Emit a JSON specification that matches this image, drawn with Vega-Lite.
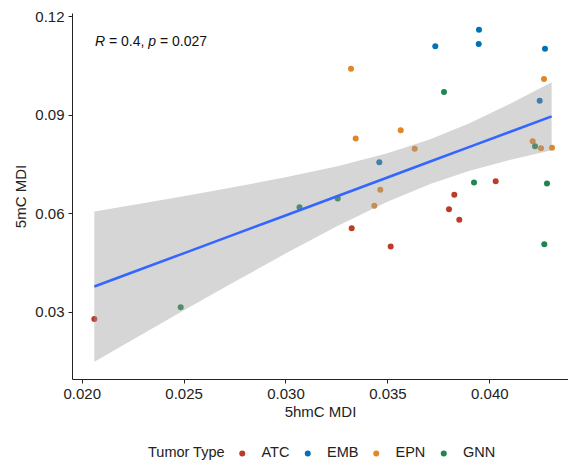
{
  "$schema": "https://vega.github.io/schema/vega-lite/v6.json",
  "autosize": "none",
  "width": 496,
  "height": 366,
  "padding": {"left": 72, "top": 13, "right": 0, "bottom": 86},
  "background": "white",
  "config": {
    "view": {"stroke": null},
    "font": "Liberation Sans",
    "axis": {
      "grid": false,
      "domainColor": "#222222",
      "tickColor": "#222222",
      "tickSize": 4,
      "labelFontSize": 15,
      "labelColor": "#222222",
      "titleFontSize": 15,
      "titleFontWeight": "normal",
      "titleColor": "#222222",
      "labelFont": "Liberation Sans",
      "titleFont": "Liberation Sans"
    },
    "legend": {
      "labelFontSize": 14.5,
      "titleFontSize": 14.5,
      "titleFontWeight": "normal",
      "labelFont": "Liberation Sans",
      "titleFont": "Liberation Sans",
      "labelColor": "#222222",
      "titleColor": "#222222"
    }
  },
  "datasets": {
    "points": [
      {"hmc": 0.020618, "mc": 0.02778, "type": "ATC"},
      {"hmc": 0.033248, "mc": 0.05539, "type": "ATC"},
      {"hmc": 0.035162, "mc": 0.04981, "type": "ATC"},
      {"hmc": 0.038283, "mc": 0.06557, "type": "ATC"},
      {"hmc": 0.038022, "mc": 0.06118, "type": "ATC"},
      {"hmc": 0.038528, "mc": 0.05795, "type": "ATC"},
      {"hmc": 0.040314, "mc": 0.06971, "type": "ATC"},
      {"hmc": 0.03735, "mc": 0.11077, "type": "EMB"},
      {"hmc": 0.039494, "mc": 0.11586, "type": "EMB"},
      {"hmc": 0.03948, "mc": 0.11147, "type": "EMB"},
      {"hmc": 0.042733, "mc": 0.11007, "type": "EMB"},
      {"hmc": 0.042473, "mc": 0.09422, "type": "EMB"},
      {"hmc": 0.034603, "mc": 0.0755, "type": "EMB"},
      {"hmc": 0.033214, "mc": 0.10397, "type": "EPN"},
      {"hmc": 0.042684, "mc": 0.1008, "type": "EPN"},
      {"hmc": 0.033445, "mc": 0.08273, "type": "EPN"},
      {"hmc": 0.035653, "mc": 0.08526, "type": "EPN"},
      {"hmc": 0.03634, "mc": 0.07959, "type": "EPN"},
      {"hmc": 0.04213, "mc": 0.0819, "type": "EPN"},
      {"hmc": 0.042537, "mc": 0.07977, "type": "EPN"},
      {"hmc": 0.043077, "mc": 0.07989, "type": "EPN"},
      {"hmc": 0.034652, "mc": 0.06709, "type": "EPN"},
      {"hmc": 0.034357, "mc": 0.06222, "type": "EPN"},
      {"hmc": 0.037777, "mc": 0.09684, "type": "GNN"},
      {"hmc": 0.042243, "mc": 0.08038, "type": "GNN"},
      {"hmc": 0.03925, "mc": 0.06932, "type": "GNN"},
      {"hmc": 0.042831, "mc": 0.06901, "type": "GNN"},
      {"hmc": 0.032561, "mc": 0.06444, "type": "GNN"},
      {"hmc": 0.030687, "mc": 0.06176, "type": "GNN"},
      {"hmc": 0.042699, "mc": 0.05051, "type": "GNN"},
      {"hmc": 0.024858, "mc": 0.03131, "type": "GNN"}
    ],
    "fit": [
      {"hmc": 0.02062, "fit": 0.03762, "lo": 0.01476, "hi": 0.06048},
      {"hmc": 0.0225, "fit": 0.04196, "lo": 0.02146, "hi": 0.06246},
      {"hmc": 0.025, "fit": 0.04774, "lo": 0.03032, "hi": 0.06516},
      {"hmc": 0.0275, "fit": 0.05351, "lo": 0.03908, "hi": 0.06794},
      {"hmc": 0.03, "fit": 0.05929, "lo": 0.04767, "hi": 0.07091},
      {"hmc": 0.0325, "fit": 0.06506, "lo": 0.05591, "hi": 0.07421},
      {"hmc": 0.035, "fit": 0.07084, "lo": 0.06348, "hi": 0.0782},
      {"hmc": 0.0371, "fit": 0.07569, "lo": 0.06889, "hi": 0.08249},
      {"hmc": 0.039, "fit": 0.08008, "lo": 0.07285, "hi": 0.08731},
      {"hmc": 0.041, "fit": 0.0847, "lo": 0.0762, "hi": 0.0932},
      {"hmc": 0.04306, "fit": 0.08946, "lo": 0.0791, "hi": 0.09982}
    ],
    "note": [
      {"hmc": 0.020653, "mc": 0.11208}
    ]
  },
  "layer": [
    {
      "data": {"name": "points"},
      "mark": {"type": "circle", "size": 36, "opacity": 1},
      "encoding": {
        "x": {
          "field": "hmc", "type": "quantitative",
          "scale": {"domain": [0.019524, 0.043862], "nice": false, "zero": false},
          "axis": {"title": "5hmC MDI", "values": [0.02, 0.025, 0.03, 0.035, 0.04], "format": ".3f", "labelPadding": 3, "titlePadding": 3}
        },
        "y": {
          "field": "mc", "type": "quantitative",
          "scale": {"domain": [0.00948, 0.12093], "nice": false, "zero": false},
          "axis": {"title": "5mC MDI", "values": [0.03, 0.06, 0.09, 0.12], "format": ".2f", "labelPadding": 4, "titlePadding": 6}
        },
        "color": {
          "field": "type", "type": "nominal",
          "scale": {"domain": ["ATC", "EMB", "EPN", "GNN"], "range": ["#BC3C29", "#0072B5", "#E18727", "#20854E"]},
          "legend": {
            "title": "Tumor Type",
            "orient": "none",
            "legendX": 76,
            "legendY": 433,
            "direction": "horizontal",
            "titleOrient": "left",
            "titleAnchor": "middle",
            "symbolType": "circle",
            "symbolSize": 36,
            "symbolOpacity": 1,
            "labelOffset": 12,
            "columnPadding": 10.5,
            "titlePadding": 10
          }
        }
      }
    },
    {
      "data": {"name": "fit"},
      "mark": {"type": "area", "color": "#999999", "opacity": 0.4},
      "encoding": {
        "x": {"field": "hmc", "type": "quantitative"},
        "y": {"field": "lo", "type": "quantitative"},
        "y2": {"field": "hi"}
      }
    },
    {
      "data": {"name": "fit"},
      "mark": {"type": "line", "color": "#3366FF", "strokeWidth": 2.6},
      "encoding": {
        "x": {"field": "hmc", "type": "quantitative"},
        "y": {"field": "fit", "type": "quantitative"}
      }
    },
    {
      "data": {"name": "note"},
      "mark": {"type": "text", "align": "left", "baseline": "middle", "fontSize": 14, "fontStyle": "italic", "color": "#111111", "dx": 0},
      "encoding": {
        "x": {"field": "hmc", "type": "quantitative"},
        "y": {"field": "mc", "type": "quantitative"},
        "text": {"value": "R"}
      }
    },
    {
      "data": {"name": "note"},
      "mark": {"type": "text", "align": "left", "baseline": "middle", "fontSize": 14, "color": "#111111", "dx": 14},
      "encoding": {
        "x": {"field": "hmc", "type": "quantitative"},
        "y": {"field": "mc", "type": "quantitative"},
        "text": {"value": "= 0.4,"}
      }
    },
    {
      "data": {"name": "note"},
      "mark": {"type": "text", "align": "left", "baseline": "middle", "fontSize": 14, "fontStyle": "italic", "color": "#111111", "dx": 53.3},
      "encoding": {
        "x": {"field": "hmc", "type": "quantitative"},
        "y": {"field": "mc", "type": "quantitative"},
        "text": {"value": "p"}
      }
    },
    {
      "data": {"name": "note"},
      "mark": {"type": "text", "align": "left", "baseline": "middle", "fontSize": 14, "color": "#111111", "dx": 65},
      "encoding": {
        "x": {"field": "hmc", "type": "quantitative"},
        "y": {"field": "mc", "type": "quantitative"},
        "text": {"value": "= 0.027"}
      }
    }
  ]
}
